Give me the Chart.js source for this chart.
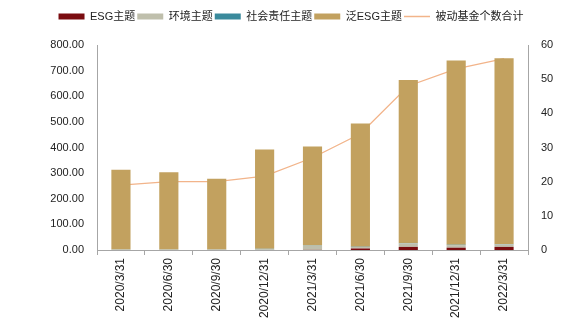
<!DOCTYPE html>
<html>
<head>
<meta charset="utf-8">
<script src="https://cdn.jsdelivr.net/npm/chart.js@4.4.0/dist/chart.umd.min.js"></script>
<style>
  body { margin: 0; background: #fff; }
  #wrap { width: 582px; height: 330px; }
</style>
</head>
<body>
<div id="wrap"><canvas id="myChart"></canvas></div>
<script>
const categories = ['2020/3/31', '2020/6/30', '2020/9/30', '2020/12/31', '2021/3/31', '2021/6/30', '2021/9/30', '2021/12/31', '2022/3/31'];
// 规模（亿元）
const esg = [0, 0, 0, 0, 0.5, 6, 12, 9, 12];
const env = [1, 1, 1.5, 3, 16, 6, 14, 10, 10];
const social = [0.5, 0.5, 0.5, 1.5, 1, 1, 1.5, 1.5, 1.5];
const panEsg = [311.5, 301.5, 276, 387.5, 386.5, 481, 635.5, 719.5, 724.5];
// 被动基金个数
const fundCount = [19, 20, 20, 21.6, 27, 34, 48, 53, 56];

const leftTicks = [0, 100, 200, 300, 400, 500, 600, 700, 800];
const rightTicks = [0, 10, 20, 30, 40, 50, 60];

const ctx = document.getElementById('myChart');
const yFont = { family: '"Liberation Sans", sans-serif', size: 11 };
const xFont = { family: '"Liberation Sans", sans-serif', size: 12 };
const axisColor = '#a6a6a6';

function bar(label, data, color) {
    return {
        type: 'bar',
        label: label,
        data: data,
        backgroundColor: color,
        borderWidth: 0,
        stack: 's',
        yAxisID: 'y',
        order: 1,
        categoryPercentage: 0.4,
        barPercentage: 1
    };
}

// extra room under the legend
const legendGap = {
    id: 'legendGap',
    beforeInit(chart) {
        const fit = chart.legend.fit;
        chart.legend.fit = function () {
            fit.call(this);
            this.height += 13;
        };
    }
};

new Chart(ctx, {
    data: {
        labels: categories,
        datasets: [
            bar('ESG主题', esg, '#7a0c10'),
            bar('环境主题', env, '#bfbfac'),
            bar('社会责任主题', social, '#3a8a9c'),
            bar('泛ESG主题', panEsg, '#c2a15f'),
            {
                type: 'line',
                label: '被动基金个数合计',
                data: fundCount,
                borderColor: '#f2b48a',
                backgroundColor: '#f2b48a',
                borderWidth: 1.3,
                pointRadius: 0,
                tension: 0,
                yAxisID: 'y1',
                order: 2
            }
        ]
    },
    plugins: [legendGap],
    options: {
        responsive: true,
        maintainAspectRatio: false,
        animation: false,
        layout: { padding: { top: 9, right: 0, left: 0, bottom: 0 } },
        plugins: {
            tooltip: { enabled: false },
            legend: {
                position: 'top',
                labels: {
                    color: '#222',
                    font: { family: '"Liberation Sans", "Noto Sans CJK SC", sans-serif', size: 11 },
                    usePointStyle: true,
                    pointStyleWidth: 26,
                    boxHeight: 6,
                    padding: 2,
                    generateLabels: function (chart) {
                        return chart.data.datasets.map(function (ds, i) {
                            const isLine = ds.type === 'line';
                            return {
                                text: ds.label,
                                datasetIndex: i,
                                fillStyle: ds.backgroundColor,
                                strokeStyle: ds.borderColor || ds.backgroundColor,
                                lineWidth: isLine ? 1.5 : 0,
                                pointStyle: isLine ? 'line' : 'rect',
                                fontColor: '#222',
                                hidden: false
                            };
                        });
                    }
                }
            }
        },
        scales: {
            x: {
                grid: { display: true, offset: true, drawOnChartArea: false, drawTicks: true, tickLength: 5, color: axisColor },
                border: { display: true, color: axisColor },
                ticks: { color: '#222', font: xFont, minRotation: 90, maxRotation: 90, padding: 3, autoSkip: false },
                afterFit: function (s) { s.height = 80; }
            },
            y: {
                position: 'left',
                stacked: true,
                min: 0,
                max: 800,
                afterBuildTicks: function (s) { s.ticks = leftTicks.map(v => ({ value: v })); },
                grid: { display: false, drawTicks: false },
                border: { display: true, color: axisColor },
                ticks: { color: '#222', font: yFont, padding: 13, callback: v => v.toFixed(2) },
                afterFit: function (s) { s.width = 97; }
            },
            y1: {
                position: 'right',
                min: 0,
                max: 60,
                afterBuildTicks: function (s) { s.ticks = rightTicks.map(v => ({ value: v })); },
                grid: { display: false, drawTicks: false },
                border: { display: true, color: axisColor },
                ticks: { color: '#222', font: yFont, padding: 13 },
                afterFit: function (s) { s.width = 54; }
            }
        }
    }
});
</script>
</body>
</html>
